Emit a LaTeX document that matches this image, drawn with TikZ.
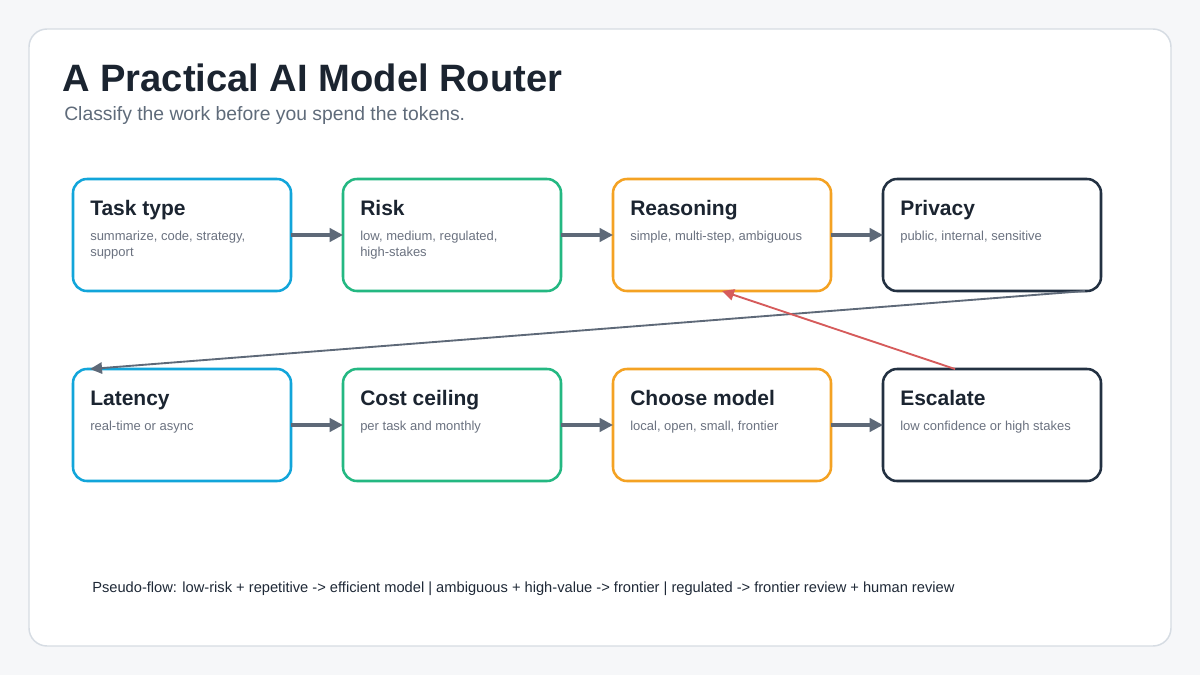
\documentclass[tikz,border=0pt]{standalone}
\usepackage{fontspec}
\setmainfont{Liberation Sans}
\usepackage{xcolor}
\usepackage{tikz}
\usetikzlibrary{arrows.meta, positioning, calc}
\definecolor{pagebg}{HTML}{F6F7F9}
\definecolor{cardline}{HTML}{D6DCE3}
\definecolor{titleink}{HTML}{1B2430}
\definecolor{subgray}{HTML}{5F6B7A}
\definecolor{descgray}{HTML}{6B7280}
\definecolor{stageblue}{HTML}{12A5DA}
\definecolor{stagegreen}{HTML}{24B882}
\definecolor{stageorange}{HTML}{F4A223}
\definecolor{stagenavy}{HTML}{233142}
\definecolor{arrowgray}{HTML}{5E6978}
\definecolor{escalred}{HTML}{D65B5B}
\definecolor{footink}{HTML}{1F2937}
\newcommand{\descbox}[1]{\parbox[t]{150pt}{\raggedright #1}}
\tikzset{
    stagebox/.style={
        draw,
        fill=white,
        line width=1.9pt,
        rounded corners=10.5pt,
        minimum width=163.5pt,
        minimum height=84pt,
        outer sep=0pt
    },
    inputbox/.style={stagebox, draw=stageblue},
    riskbox/.style={stagebox, draw=stagegreen},
    thinkbox/.style={stagebox, draw=stageorange},
    guardbox/.style={stagebox, draw=stagenavy},
    stagetitle/.style={anchor=base west, inner sep=0pt, text=titleink,
        font=\bfseries\fontsize{15.75}{18}\selectfont},
    stagedesc/.style={anchor=base west, inner sep=0pt, text=descgray,
        font=\fontsize{9.75}{12}\selectfont},
    flow/.style={-{Triangle[length=10pt, width=10pt]}, line width=2.3pt, draw=arrowgray},
    backflow/.style={-{Triangle[length=9pt, width=8.5pt]}, line width=1.4pt, draw=arrowgray},
    escflow/.style={-{Triangle[length=9pt, width=8.5pt]}, line width=1.4pt, draw=escalred},
    card/.style={draw=cardline, fill=white, line width=1.1pt, rounded corners=13.5pt}
}
\begin{document}
\begin{tikzpicture}[x=0.75pt, y=-0.75pt, node distance=58.5pt and 39pt]
    \useasboundingbox (0,0) rectangle (1200,675);
    \fill[pagebg] (0,0) rectangle (1200,675);
    \draw[card] (29,29) rectangle (1171,646);

    \node[anchor=base west, inner sep=0pt, text=titleink, font=\bfseries\fontsize{28.6}{32}\selectfont]
        (title) at (62,91) {A Practical AI Model Router};
    \node[anchor=base west, inner sep=0pt, text=subgray, font=\fontsize{14.5}{17}\selectfont]
        (subtitle) at (64,120) {Classify the work before you spend the tokens.};

    \node[inputbox] (tasktype) at (182,235) {};
    \node[riskbox, right=of tasktype] (risk) {};
    \node[thinkbox, right=of risk] (reasoning) {};
    \node[guardbox, right=of reasoning] (privacy) {};
    \node[inputbox, below=of tasktype] (latency) {};
    \node[riskbox, right=of latency] (cost) {};
    \node[thinkbox, right=of cost] (choose) {};
    \node[guardbox, right=of choose] (escalate) {};

    \node[stagetitle] (tasktype-t) at ([shift={(12.75pt,-27pt)}]tasktype.north west) {Task type};
    \node[stagedesc] (tasktype-d) at ([shift={(12.75pt,-45.75pt)}]tasktype.north west) {\descbox{summarize, code, strategy,\\support}};
    \node[stagetitle] (risk-t) at ([shift={(12.75pt,-27pt)}]risk.north west) {Risk};
    \node[stagedesc] (risk-d) at ([shift={(12.75pt,-45.75pt)}]risk.north west) {\descbox{low, medium, regulated,\\high-stakes}};
    \node[stagetitle] (reasoning-t) at ([shift={(12.75pt,-27pt)}]reasoning.north west) {Reasoning};
    \node[stagedesc] (reasoning-d) at ([shift={(12.75pt,-45.75pt)}]reasoning.north west) {simple, multi-step, ambiguous};
    \node[stagetitle] (privacy-t) at ([shift={(12.75pt,-27pt)}]privacy.north west) {Privacy};
    \node[stagedesc] (privacy-d) at ([shift={(12.75pt,-45.75pt)}]privacy.north west) {public, internal, sensitive};
    \node[stagetitle] (latency-t) at ([shift={(12.75pt,-27pt)}]latency.north west) {Latency};
    \node[stagedesc] (latency-d) at ([shift={(12.75pt,-45.75pt)}]latency.north west) {real-time or async};
    \node[stagetitle] (cost-t) at ([shift={(12.75pt,-27pt)}]cost.north west) {Cost ceiling};
    \node[stagedesc] (cost-d) at ([shift={(12.75pt,-45.75pt)}]cost.north west) {per task and monthly};
    \node[stagetitle] (choose-t) at ([shift={(12.75pt,-27pt)}]choose.north west) {Choose model};
    \node[stagedesc] (choose-d) at ([shift={(12.75pt,-45.75pt)}]choose.north west) {local, open, small, frontier};
    \node[stagetitle] (escalate-t) at ([shift={(12.75pt,-27pt)}]escalate.north west) {Escalate};
    \node[stagedesc] (escalate-d) at ([shift={(12.75pt,-45.75pt)}]escalate.north west) {low confidence or high stakes};

    \draw[flow] (tasktype) -- (risk);
    \draw[flow] (risk) -- (reasoning);
    \draw[flow] (reasoning) -- (privacy);
    \draw[flow] (latency) -- (cost);
    \draw[flow] (cost) -- (choose);
    \draw[flow] (choose) -- (escalate);

    \draw[backflow] ([xshift=-12pt]privacy.south east) -- ([xshift=12.75pt]latency.north west);
    \draw[escflow] ([xshift=-27.75pt]escalate.north) -- (reasoning.south);

    \node[anchor=base west, inner sep=0pt, text=footink, font=\fontsize{11}{13}\selectfont]
        (pseudoflow) at (92,592) {Pseudo-flow: low-risk + repetitive -> efficient model | ambiguous + high-value -> frontier | regulated -> frontier review + human review};
\end{tikzpicture}
\end{document}
